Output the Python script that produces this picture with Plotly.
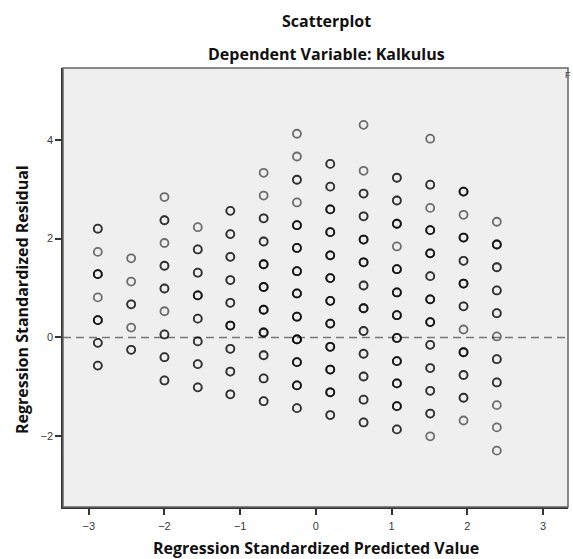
import plotly.graph_objects as go

# Standardized predicted value for each vertical stripe of points
predicted = [-2.88, -2.44, -2.00, -1.56, -1.13, -0.69, -0.25,
             0.19, 0.63, 1.07, 1.51, 1.95, 2.39]

# Standardized residuals in each stripe, with the number of cases at each spot
resid_01 = [2.20, 1.73, 1.28, 0.81, 0.35, -0.11, -0.57]
count_01 = [2, 1, 3, 1, 3, 2, 2]
resid_02 = [1.60, 1.13, 0.67, 0.20, -0.25]
count_02 = [1, 1, 2, 1, 2]
resid_03 = [2.84, 2.37, 1.91, 1.45, 0.99, 0.53, 0.06, -0.40, -0.87]
count_03 = [1, 2, 1, 2, 2, 1, 2, 2, 2]
resid_04 = [2.23, 1.78, 1.31, 0.85, 0.38, -0.08, -0.54, -1.01]
count_04 = [1, 2, 2, 3, 2, 2, 2, 2]
resid_05 = [2.56, 2.09, 1.63, 1.16, 0.70, 0.24, -0.23, -0.69, -1.15]
count_05 = [2, 2, 2, 2, 2, 3, 2, 2, 2]
resid_06 = [3.33, 2.87, 2.41, 1.94, 1.48, 1.02, 0.56, 0.10, -0.36, -0.83, -1.29]
count_06 = [1, 1, 2, 2, 3, 3, 3, 3, 2, 2, 2]
resid_07 = [4.12, 3.66, 3.19, 2.73, 2.27, 1.81, 1.34, 0.89, 0.42, -0.04, -0.50, -0.97, -1.43]
count_07 = [1, 1, 2, 1, 3, 3, 3, 3, 3, 4, 3, 3, 2]
resid_08 = [3.51, 3.05, 2.59, 2.13, 1.66, 1.20, 0.74, 0.28, -0.19, -0.65, -1.11, -1.57]
count_08 = [2, 2, 3, 3, 3, 3, 3, 3, 3, 3, 3, 2]
resid_09 = [4.30, 3.37, 2.91, 2.45, 1.98, 1.52, 1.05, 0.59, 0.13, -0.33, -0.79, -1.26, -1.72]
count_09 = [1, 1, 2, 2, 3, 3, 2, 3, 2, 2, 2, 2, 2]
resid_10 = [3.23, 2.77, 2.30, 1.84, 1.38, 0.91, 0.45, -0.01, -0.48, -0.93, -1.39, -1.86]
count_10 = [2, 2, 3, 1, 3, 3, 3, 3, 3, 3, 3, 2]
resid_11 = [4.02, 3.09, 2.62, 2.17, 1.70, 1.24, 0.77, 0.31, -0.15, -0.62, -1.08, -1.54, -2.00]
count_11 = [1, 2, 1, 3, 3, 2, 3, 3, 2, 2, 2, 2, 1]
resid_12 = [2.95, 2.48, 2.02, 1.55, 1.09, 0.63, 0.16, -0.30, -0.76, -1.22, -1.68]
count_12 = [3, 1, 3, 2, 3, 2, 1, 3, 2, 2, 1]
resid_13 = [2.34, 1.88, 1.42, 0.95, 0.49, 0.02, -0.44, -0.91, -1.37, -1.82, -2.29]
count_13 = [1, 3, 2, 2, 2, 1, 2, 2, 1, 1, 1]

x_ticks = [-3, -2, -1, 0, 1, 2, 3]
y_ticks = [-2, 0, 2, 4]

stripes = [
    (resid_01, count_01), (resid_02, count_02), (resid_03, count_03),
    (resid_04, count_04), (resid_05, count_05), (resid_06, count_06),
    (resid_07, count_07), (resid_08, count_08), (resid_09, count_09),
    (resid_10, count_10), (resid_11, count_11), (resid_12, count_12),
    (resid_13, count_13),
]

# Expand to one marker per case; coincident cases stack and darken
xs, ys = [], []
for xv, (res, cnt) in zip(predicted, stripes):
    for r, c in zip(res, cnt):
        for _ in range(c):
            xs.append(xv)
            ys.append(r)

W, H = 573, 559
ML, MR, MT, MB = 63, 5, 68, 52
PW = W - ML - MR
PH = H - MT - MB


def px(xpix):
    return (xpix - ML) / PW


def py(ypix):
    return 1 - (ypix - MT) / PH


fig = go.Figure()
fig.add_trace(go.Scatter(
    x=xs, y=ys, mode="markers",
    marker=dict(symbol="circle-open", size=8, color="black",
                opacity=0.55, line=dict(width=1.8, color="black")),
    hoverinfo="x+y", showlegend=False,
))

axis_font = dict(family="Liberation Sans, Arial, sans-serif", size=11, color="#3a3a3a")

fig.update_layout(
    width=W, height=H,
    margin=dict(l=ML, r=MR, t=MT, b=MB, pad=0),
    paper_bgcolor="white",
    plot_bgcolor="#EFEFEF",
    showlegend=False,
    xaxis=dict(range=[-3.34, 3.33], tickvals=x_ticks, showgrid=False,
               zeroline=False, showline=True, linecolor="#333333", linewidth=1.5,
               ticks="outside", ticklen=6, tickwidth=1.5, tickcolor="#333333",
               tickfont=axis_font, ticklabelstandoff=2),
    yaxis=dict(range=[-3.43, 5.45], tickvals=y_ticks, showgrid=False,
               zeroline=False, showline=True, linecolor="#333333", linewidth=1.5,
               ticks="outside", ticklen=6, tickwidth=1.5, tickcolor="#333333",
               tickfont=axis_font),
    shapes=[
        dict(type="line", xref="paper", yref="y", x0=0, x1=1, y0=0, y1=0,
             line=dict(color="#777777", width=1.5, dash="8px,5px"), layer="below"),
        dict(type="rect", xref="paper", yref="paper", x0=0, x1=1, y0=0, y1=1,
             line=dict(color="#666666", width=1.5), layer="above"),
    ],
)

title_font = dict(family="Open Sans, sans-serif", size=16, color="#111111")
fig.add_annotation(text="<b>Scatterplot</b>", xref="paper", yref="paper",
                   x=px(326), y=py(21), showarrow=False, font=title_font,
                   xanchor="center", yanchor="middle")
fig.add_annotation(text="<b>Dependent Variable: Kalkulus</b>", xref="paper", yref="paper",
                   x=px(326), y=py(54), showarrow=False, font=title_font,
                   xanchor="center", yanchor="middle")
fig.add_annotation(text="<b>Regression Standardized Predicted Value</b>", xref="paper",
                   yref="paper", x=px(316), y=py(548), showarrow=False,
                   font=title_font, xanchor="center", yanchor="middle")
fig.add_annotation(text="<b>Regression Standardized Residual</b>", xref="paper",
                   yref="paper", x=px(22), y=py(300), showarrow=False, textangle=-90,
                   font=title_font, xanchor="center", yanchor="middle")
fig.add_annotation(text="F", xref="paper", yref="paper", x=px(573), y=py(75),
                   showarrow=False, xanchor="right", yanchor="middle",
                   font=dict(family="Liberation Sans, sans-serif", size=9, color="#444444"))

fig.write_html("out.html")
